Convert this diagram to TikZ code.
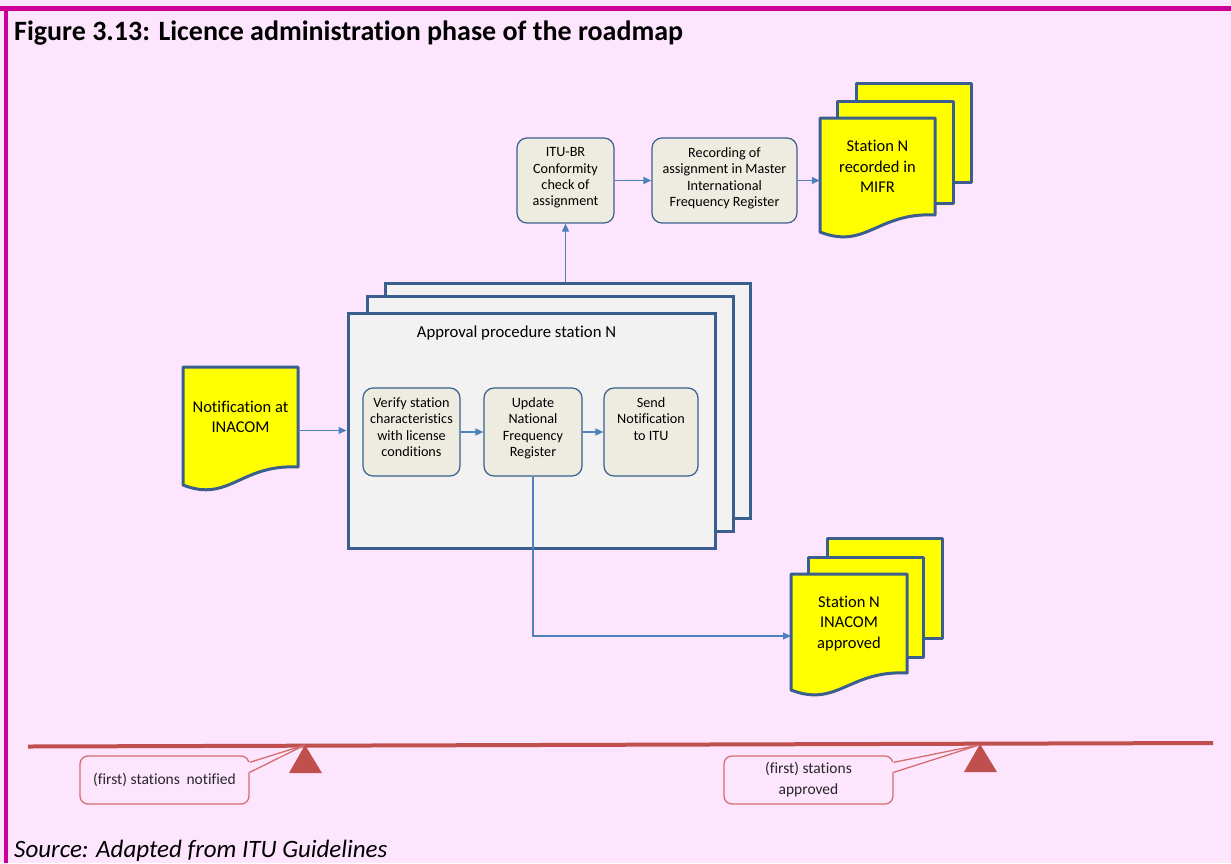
\documentclass[tikz,border=0pt]{standalone}
\usepackage{fontspec}
\setmainfont{Carlito}[Ligatures=NoCommon]
\usetikzlibrary{arrows.meta,calc}
\definecolor{bgpink}{RGB}{254,229,254}
\definecolor{framemag}{RGB}{204,0,153}
\definecolor{boxblue}{RGB}{58,95,142}
\definecolor{boxgray}{RGB}{242,242,242}
\definecolor{innerfill}{RGB}{238,236,225}
\definecolor{arrowblue}{RGB}{79,129,189}
\definecolor{docyellow}{RGB}{255,255,0}
\definecolor{tlred}{RGB}{192,80,77}
\definecolor{callred}{RGB}{212,110,110}
\begin{document}
\begin{tikzpicture}[x=1pt,y=-1pt,
  arr/.style={draw=arrowblue, line width=1.2pt, -{Triangle[length=8pt,width=7pt]}},
  bigbox/.style={draw=boxblue, line width=3pt, fill=boxgray, inner sep=0pt},
  ibox/.style={draw=boxblue, line width=1.2pt, fill=innerfill, rounded corners=10pt, inner sep=0pt},
  itext/.style={inner sep=0pt, align=center, font=\fontsize{14.2}{16.4}\selectfont},
  doctext/.style={inner sep=0pt, align=center, font=\fontsize{16.5}{20.5}\selectfont},
  docline/.style={draw=boxblue, line width=3pt, fill=docyellow, line join=round},
  docbox/.style={inner sep=0pt},
  callout/.style={draw=callred, line width=1.3pt, fill=bgpink, rounded corners=8pt, inner sep=0pt, minimum width=169pt, minimum height=48pt, align=center, text=black!85, font=\fontsize{15.5}{21}\selectfont},
  tlmark/.style={fill=tlred}
]
\useasboundingbox (0,0) rectangle (1231,863);
\fill[bgpink] (0,0) rectangle (1231,863);
\fill[framemag] (0,6) rectangle (1231,11);
\fill[framemag] (4,6) rectangle (8,863);

% title and source
\node[anchor=base west, inner sep=0pt, font=\fontsize{28}{34}\selectfont\bfseries] (title) at (14,40) {Figure 3.13: Licence administration phase of the roadmap};
\node[anchor=base west, inner sep=0pt, font=\fontsize{25}{30}\selectfont\itshape] (source) at (14,857) {Source: Adapted from ITU Guidelines};

% ITU boxes
\node[ibox, minimum width=97pt, minimum height=85pt] (itu) at (565.5,180.5) {};
\node[itext, anchor=north] (itut) at ([yshift=-10pt]itu.north) {ITU-BR\\Conformity\\check of\\assignment};
\node[ibox, minimum width=145pt, minimum height=85pt] (rec) at (724.5,180.5) {};
\node[itext, anchor=north] (rect) at ([yshift=-10pt]rec.north) {Recording of\\assignment in Master\\International\\Frequency Register};

% MIFR document stack
\draw[docline] (856,83) rectangle (971,182);
\draw[docline] (837,101) rectangle (953,203);
\draw[docline] (820,118) -- (935,118) -- (935,215) .. controls (877.5,212) and (866,250) .. (820,232) -- cycle;
\node[docbox, minimum width=115pt, minimum height=97pt] (mifr) at (877.5,166.5) {};
\node[doctext] (mifrt) at (mifr.center) {Station N\\recorded in\\MIFR};

% big box stack
\node[bigbox, minimum width=365pt, minimum height=235pt] (big3) at (567.5,400.5) {};
\node[bigbox, minimum width=366pt, minimum height=235pt] (big2) at (550,413.5) {};
\node[bigbox, minimum width=367pt, minimum height=235pt] (front) at (531.5,430.5) {};
\node[inner sep=0pt, font=\fontsize{16.7}{20}\selectfont] (apt) at (516.5,333) {Approval procedure station N};

% inner boxes
\node[ibox, minimum width=97pt, minimum height=88pt] (verify) at (411.5,432) {};
\node[itext, anchor=north] (verifyt) at ([yshift=-10pt]verify.north) {Verify station\\characteristics\\with license\\conditions};
\node[ibox, minimum width=98pt, minimum height=88pt] (update) at (533,432) {};
\node[itext, anchor=north] (updatet) at ([yshift=-10pt]update.north) {Update\\National\\Frequency\\Register};
\node[ibox, minimum width=94pt, minimum height=88pt] (send) at (651,432) {};
\node[itext, anchor=north] (sendt) at ([yshift=-10pt]send.north) {Send\\Notification\\to ITU};

% notification document
\draw[docline] (183,367) -- (298,367) -- (298,467) .. controls (240.5,464) and (229,503) .. (183,485) -- cycle;
\node[docbox, minimum width=115pt, minimum height=100pt] (notif) at (240.5,417) {};
\node[doctext] (notift) at (notif.center) {Notification at\\INACOM};

% INACOM approved stack
\draw[docline] (827,538) rectangle (942,638);
\draw[docline] (808,557) rectangle (923,657);
\draw[docline] (791,574) -- (907,574) -- (907,673) .. controls (849,670) and (837.4,708) .. (791,690) -- cycle;
\node[docbox, minimum width=116pt, minimum height=99pt] (inacom) at (849,623.5) {};
\node[doctext] (inacomt) at (inacom.center) {Station N\\INACOM\\approved};
\coordinate (inacomIn) at (791,636);

% connectors
\draw[arr] (itu.east) -- (rec.west);
\draw[arr] (rec.east) -- (rec.east -| mifr.west);
\draw[arr] (itu.south |- big3.north) -- (itu.south);
\draw[arr] (notif.east |- front.west) -- (front.west);
\draw[arr] (verify.east) -- (update.west);
\draw[arr] (update.east) -- (send.west);
\draw[arr] (update.south) |- (inacomIn);

% timeline
\draw[tlred, line width=4pt] (28,746.5) -- (1213,743);
\fill[tlmark] (305,745) -- (322,773) -- (289,773) -- cycle;
\fill[tlmark] (980,744) -- (997,772) -- (964,772) -- cycle;

% callouts
\node[callout] (c1) at (164.5,780) {(first) stations\hspace{0.2em} notified};
\coordinate (c1tip) at (305,745);
\fill[bgpink] ($(c1.north east)+(-1.6,7)$) -- (c1tip) -- ($(c1.north east)+(-1.6,17)$) -- cycle;
\draw[callred, line width=1.3pt] ($(c1.north east)+(0,7)$) -- (c1tip) -- ($(c1.north east)+(0,17)$);

\node[callout] (c2) at (808.5,780) {(first) stations\\approved};
\coordinate (c2tip) at (979,745);
\fill[bgpink] ($(c2.north east)+(-1.6,7)$) -- (c2tip) -- ($(c2.north east)+(-1.6,17)$) -- cycle;
\draw[callred, line width=1.3pt] ($(c2.north east)+(0,7)$) -- (c2tip) -- ($(c2.north east)+(0,17)$);
\end{tikzpicture}
\end{document}
